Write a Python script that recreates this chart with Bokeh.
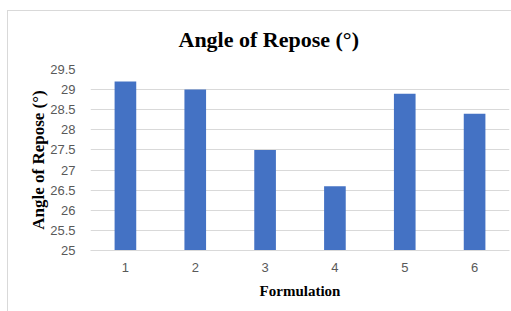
from bokeh.plotting import figure
from bokeh.models import Range1d, SingleIntervalTicker, NumeralTickFormatter, Title
from bokeh.embed import file_html
from bokeh.resources import INLINE

title_text = "Angle of Repose (°)"
formulations = ["1", "2", "3", "4", "5", "6"]
angle_values = [29.2, 29.0, 27.5, 26.6, 28.9, 28.4]

p = figure(x_range=formulations, y_range=Range1d(25, 29.5),
           width=504, height=301, output_backend="svg", toolbar_location=None,
           min_border_left=82, min_border_right=3, min_border_top=58, min_border_bottom=62)
p.styles = {"border-left": "1px solid #d9d9d9", "border-top": "1px solid #d9d9d9",
            "margin-left": "7px", "margin-top": "10px"}

p.vbar(x=formulations, top=angle_values, bottom=25, width=0.31, color="#4472c4", line_color=None)

p.title = Title(text=title_text, align="left", offset=88, vertical_align="top",
                text_font="Liberation Serif", text_font_size="22px", text_font_style="bold",
                text_color="#000000", standoff=31)

p.outline_line_color = None
p.xgrid.grid_line_color = None
p.ygrid.grid_line_color = "#d9d9d9"
p.ygrid.grid_line_width = 1

p.yaxis.ticker = SingleIntervalTicker(interval=0.5)
p.yaxis.formatter = NumeralTickFormatter(format="0.[0]")

for ax in (p.xaxis[0], p.yaxis[0]):
    ax.major_tick_line_color = None
    ax.minor_tick_line_color = None
    ax.major_label_text_font = "Liberation Sans"
    ax.major_label_text_font_size = "13px"
    ax.major_label_text_color = "#595959"
    ax.axis_label_text_font = "Liberation Serif"
    ax.axis_label_text_font_style = "bold"
    ax.axis_label_text_color = "#000000"

p.yaxis.axis_line_color = None
p.yaxis.major_label_standoff = 9
p.yaxis.axis_label = "Angle of Repose (°)"
p.yaxis.axis_label_text_font_size = "17px"
p.yaxis.axis_label_standoff = -1

p.xaxis.axis_line_color = "#d9d9d9"
p.xaxis.major_label_standoff = 6
p.xaxis.axis_label = "Formulation"
p.xaxis.axis_label_text_font_size = "15px"
p.xaxis.axis_label_standoff = 8

open("out.html", "w").write(file_html(p, INLINE))
